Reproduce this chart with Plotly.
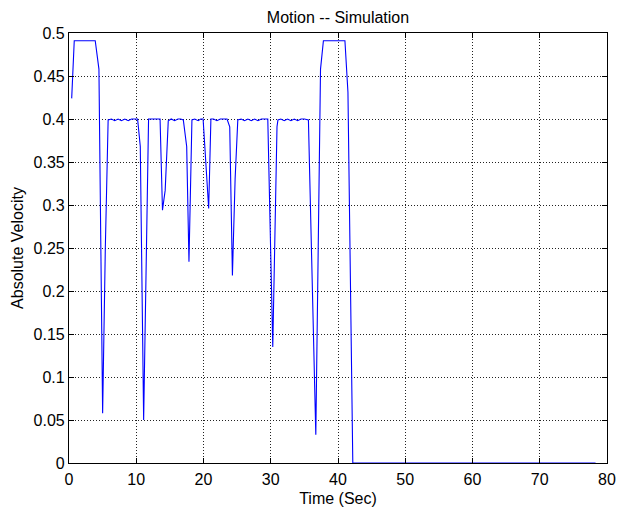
import plotly.graph_objects as go

# Simulated absolute velocity samples (time in seconds, velocity)
time_sec = [
    0.4, 0.78, 2.0, 3.9, 4.45, 5.0, 5.4, 5.82,
    6.3, 6.8, 7.3, 7.8, 8.3, 8.8, 9.3, 9.8, 10.2,
    10.6, 11.1, 11.83,
    12.3, 12.8, 13.2, 13.54,
    13.9, 14.3, 14.76,
    15.2, 15.7, 16.2, 16.6, 17.0,
    17.5, 17.84, 18.28,
    18.7, 19.2, 19.6, 19.94,
    20.77, 21.1,
    21.5, 22.0, 22.5, 23.0, 23.5, 23.9,
    24.3, 24.7, 25.1,
    25.6, 26.1, 26.6, 27.1, 27.6, 28.1, 28.6, 29.1, 29.56,
    30.3, 30.93, 31.07,
    31.5, 32.0, 32.5, 33.0, 33.5, 34.0, 34.5, 35.0, 35.6,
    36.7, 37.4, 37.83, 41.03, 41.48, 42.2, 78.3,
]
velocity = [
    0.424, 0.491, 0.491, 0.491, 0.458, 0.058, 0.25, 0.399,
    0.4, 0.398, 0.4, 0.398, 0.4, 0.398, 0.4, 0.4, 0.4,
    0.368, 0.050, 0.4,
    0.4, 0.4, 0.4, 0.4,
    0.294, 0.317, 0.398,
    0.4, 0.398, 0.4, 0.4, 0.399,
    0.368, 0.234, 0.399,
    0.4, 0.398, 0.4, 0.4,
    0.296, 0.4,
    0.4, 0.398, 0.4, 0.4, 0.4, 0.391,
    0.218, 0.33, 0.399,
    0.4, 0.398, 0.4, 0.398, 0.4, 0.398, 0.4, 0.4, 0.4,
    0.135, 0.391, 0.399,
    0.4, 0.398, 0.4, 0.398, 0.4, 0.398, 0.4, 0.4, 0.399,
    0.033, 0.458, 0.491, 0.491, 0.431, 0.0, 0.0,
]

x_ticks = [0, 10, 20, 30, 40, 50, 60, 70, 80]
y_ticks = [0, 0.05, 0.1, 0.15, 0.2, 0.25, 0.3, 0.35, 0.4, 0.45, 0.5]
y_tick_labels = ["0", "0.05", "0.1", "0.15", "0.2", "0.25", "0.3", "0.35", "0.4", "0.45", "0.5"]

FONT = "Liberation Sans, Arial, sans-serif"

fig = go.Figure()
fig.add_trace(go.Scatter(
    x=time_sec, y=velocity, mode="lines",
    line=dict(color="#0000ff", width=1.1),
    showlegend=False,
))

axis_common = dict(
    showline=True, linecolor="black", linewidth=1.2, mirror="ticks",
    ticks="inside", ticklen=5, tickcolor="black",
    showgrid=True, gridcolor="#222222", gridwidth=0.8, griddash="1px,2px",
    zeroline=False,
    tickfont=dict(family=FONT, size=16, color="black"),
)

fig.update_xaxes(
    range=[0, 80], tickvals=x_ticks, ticklabelstandoff=2,
    title=dict(text="Time (Sec)", standoff=5,
               font=dict(family=FONT, size=16, color="black")),
    **axis_common,
)
fig.update_yaxes(
    range=[0, 0.5], tickvals=y_ticks, ticktext=y_tick_labels,
    title=dict(text="Absolute Velocity", standoff=5,
               font=dict(family=FONT, size=16, color="black")),
    **axis_common,
)

fig.update_layout(
    width=626, height=515,
    margin=dict(l=69, r=10, t=33, b=52),
    paper_bgcolor="white", plot_bgcolor="white",
    title=dict(text="Motion -- Simulation", x=0.5, xref="paper", xanchor="center",
               y=0.966, yref="container", yanchor="middle",
               font=dict(family=FONT, size=16, color="black")),
)

fig.write_html("out.html")
